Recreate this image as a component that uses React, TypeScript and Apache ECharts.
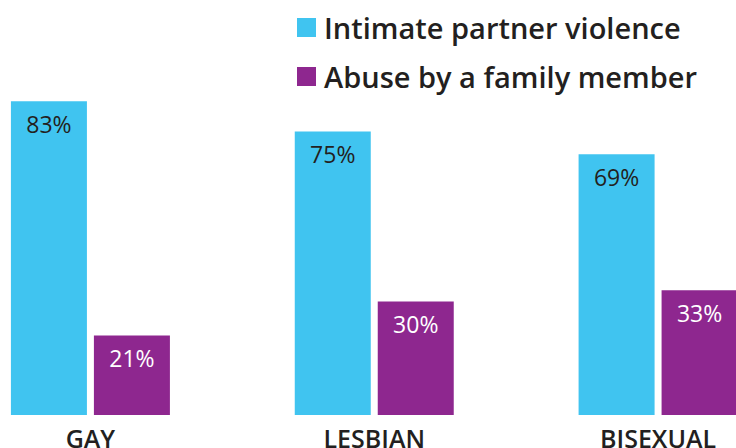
import React, { useEffect, useRef } from "react";
import * as echarts from "echarts";

const categories = ["GAY", "LESBIAN", "BISEXUAL"];
const intimatePartner = [83, 75, 69];
const familyAbuse = [21, 30, 33];
const seriesNames = ["Intimate partner violence", "Abuse by a family member"];

const BLUE = "#40C4F0";
const PURPLE = "#8E278F";
const DARK = "#231F20";
const FONT = "'Open Sans', 'Noto Sans', sans-serif";

export default function App() {
  const ref = useRef<HTMLDivElement>(null);
  useEffect(() => {
    if (!ref.current) return;
    const chart = echarts.init(ref.current, null, { renderer: "svg" });
    chart.setOption({
      animation: false,
      grid: {
        left: -51.5,
        right: -64,
        top: 37,
        bottom: 33,
        containLabel: false,
        outerBoundsMode: "none",
      },
      legend: {
        orient: "vertical",
        left: 297,
        top: 13,
        padding: 0,
        itemWidth: 19,
        itemHeight: 19,
        itemGap: 20,
        icon: "rect",
        textStyle: {
          fontFamily: FONT,
          fontSize: 29,
          fontWeight: 600,
          color: DARK,
          padding: [0, 0, 0, 3],
        },
        data: seriesNames,
      },
      xAxis: {
        type: "category",
        data: categories,
        axisLine: { show: false },
        axisTick: { show: false },
        axisLabel: {
          fontFamily: FONT,
          fontSize: 25,
          fontWeight: 600,
          color: DARK,
          margin: 10,
        },
      },
      yAxis: {
        type: "value",
        min: 0,
        max: 100,
        show: false,
        splitLine: { show: false },
      },
      series: [
        {
          name: seriesNames[0],
          type: "bar",
          data: intimatePartner,
          barWidth: 76,
          barGap: "9.2%",
          itemStyle: { color: BLUE },
          label: {
            show: true,
            position: "insideTop",
            distance: 11,
            formatter: "{c}%",
            fontFamily: FONT,
            fontSize: 23,
            color: DARK,
          },
        },
        {
          name: seriesNames[1],
          type: "bar",
          data: familyAbuse,
          barWidth: 76,
          itemStyle: { color: PURPLE },
          label: {
            show: true,
            position: "insideTop",
            distance: 11,
            formatter: "{c}%",
            fontFamily: FONT,
            fontSize: 23,
            color: "#ffffff",
          },
        },
      ],
    });
    return () => chart.dispose();
  }, []);
  return <div ref={ref} style={{ width: 736, height: 448, position: "absolute", left: 0, top: 0 }} />;
}
